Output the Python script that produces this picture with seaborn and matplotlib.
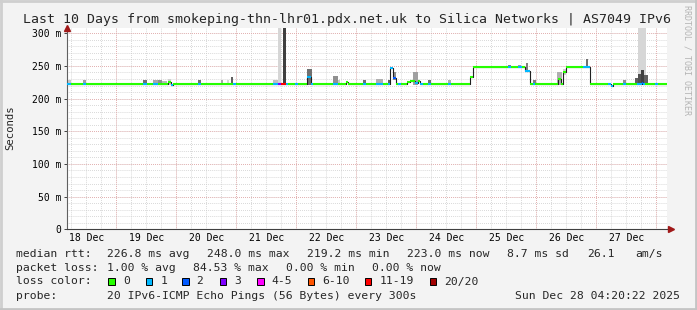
import numpy as np
import pandas as pd
import matplotlib
matplotlib.use("Agg")
import matplotlib.pyplot as plt
from matplotlib.patches import Rectangle
from matplotlib.lines import Line2D
import seaborn as sns

# ---------------- data (time in hours since 2025-12-18 00:00) ----------------
t_start_view = 4.34          # Dec 18 04:20:22
t_end_view = 244.34          # Dec 28 04:20:22

# median rtt pieces: start hour, median (ms), packets lost (of 20)
piece_start = [4.34, 6.0, 10.7, 12.0, 34.7, 36.3, 38.7, 40.7, 44.7, 45.9, 46.7,
               56.7, 57.9, 70.7, 71.9, 86.7, 88.7, 89.9, 91.9, 92.7, 95.7, 96.7,
               100.3, 101.9, 102.7, 110.7, 112.7, 115.9, 116.7, 122.7, 123.9,
               127.9, 130.7, 132.7, 133.5, 134.7, 135.9, 136.7, 137.9, 140.3,
               141.5, 143.5, 144.7, 145.5, 146.7, 148.7, 149.9, 156.7, 157.9,
               165.5, 166.7, 180.7, 181.9, 184.7, 186.3, 187.5, 189.5, 190.7,
               191.5, 200.7, 201.9, 202.7, 203.9, 210.7, 213.5, 220.7, 221.9,
               222.7, 226.7, 227.9, 232.3, 234.3, 234.9, 235.5, 239.5, 240.7]
piece_median = [222.5, 222.5, 222.5, 222.5, 222.5, 222.5, 222.5, 222.5, 225.0, 221.5, 222.5,
                222.5, 222.5, 222.5, 222.5, 222.5, 222.5, 222.5, 222.5, 222.5, 222.5, 222.5,
                233.0, 222.5, 222.5, 222.5, 222.5, 225.0, 222.5, 222.5, 222.5,
                222.5, 222.5, 222.5, 247.0, 231.0, 222.5, 222.5, 222.5, 225.5,
                227.0, 223.5, 227.0, 222.5, 222.5, 222.5, 222.5, 222.5, 222.5,
                233.0, 248.0, 248.0, 248.0, 248.0, 248.0, 242.0, 222.5, 222.5,
                222.5, 230.0, 222.5, 241.0, 248.0, 248.0, 222.5, 222.5, 219.5,
                222.5, 222.5, 222.5, 222.5, 223.5, 222.5, 222.5, 222.5, 222.5]
piece_loss = [1, 0, 1, 0, 1, 0, 1, 0, 0, 1, 0,
              1, 0, 1, 0, 1, 3, 17, 1, 0, 1, 0,
              1, 1, 0, 1, 0, 0, 0, 1, 0,
              1, 0, 1, 1, 2, 0, 1, 0, 0,
              0, 1, 0, 1, 0, 1, 0, 1, 0,
              0, 0, 1, 0, 1, 0, 1, 0, 1,
              0, 0, 0, 0, 0, 1, 0, 1, 1,
              0, 1, 0, 1, 2, 1, 0, 1, 0]

# smoke (ping spread): start, end, low ms, high ms, shade
smoke_start = [88.7, 232.7, 4.7, 10.7, 34.7, 38.7, 40.7, 42.3, 44.7, 56.7, 65.8, 68.3,
               69.9, 86.7, 90.7, 100.3, 110.7, 112.7, 122.7, 127.9, 132.7, 134.7,
               142.7, 148.7, 156.7, 180.7, 184.7, 187.9, 190.7, 200.3, 202.7, 211.9,
               226.7, 231.5, 232.7, 233.9, 235.1]
smoke_end = [89.9, 235.9, 5.9, 11.9, 36.3, 40.7, 42.3, 44.3, 45.9, 57.9, 66.8, 69.1,
             70.7, 88.7, 91.9, 102.3, 112.7, 113.5, 123.9, 130.7, 133.9, 135.9,
             144.7, 149.9, 157.9, 181.9, 185.9, 188.7, 191.9, 202.3, 203.9, 212.7,
             227.9, 232.7, 233.9, 235.1, 236.7]
smoke_low = [221, 221, 221, 221, 221, 221, 221, 221, 221, 221, 221, 221,
             221, 221, 221, 221, 221, 221, 221, 221, 221, 229,
             221, 221, 221, 247, 247, 241, 221, 221, 236, 247,
             221, 221, 221, 221, 221]
smoke_high = [320, 320, 228, 228, 228, 228, 228, 227, 230, 228, 229, 228,
              233, 229, 320, 245, 234, 228, 228, 230, 228, 241,
              240, 228, 228, 251, 251, 254, 228, 241, 245, 260,
              228, 232, 238, 243, 236]
smoke_shade = ["#d6d6d6", "#d6d6d6", "#c8c8c8", "#a0a0a0", "#707070", "#a8a8a8",
               "#909090", "#b8b8b8", "#d0d0d0", "#707070", "#a8a8a8", "#d8d8d8",
               "#606060", "#c0c0c0", "#404040", "#707070", "#909090", "#c8c8c8",
               "#707070", "#b0b0b0", "#606060", "#909090", "#a0a0a0", "#707070",
               "#b0b0b0", "#808080", "#a0a0a0", "#808080", "#808080", "#b0b0b0",
               "#d0d0d0", "#707070", "#909090", "#606060", "#505050", "#404040",
               "#606060"]

day_labels = ["18 Dec", "19 Dec", "20 Dec", "21 Dec", "22 Dec",
              "23 Dec", "24 Dec", "25 Dec", "26 Dec", "27 Dec"]
ytick_values = [0, 50, 100, 150, 200, 250, 300]
ytick_labels = ["0", "50 m", "100 m", "150 m", "200 m", "250 m", "300 m"]

loss_labels = ["0", "1", "2", "3", "4-5", "6-10", "11-19", "20/20"]
loss_colors = ["#26ff00", "#00b8ff", "#0059ff", "#7e00ff",
               "#ff00ff", "#ff5500", "#ff0000", "#a10000"]
loss_upper = [0, 1, 2, 3, 5, 10, 19, 20]

stats_rtt = ["226.8 ms avg", "248.0 ms max", "219.2 ms min", "223.0 ms now",
             "8.7 ms sd", "26.1", "am/s"]
stats_loss = ["1.00 % avg", "84.53 % max", "0.00 % min", "0.00 % now"]
title = "Last 10 Days from smokeping-thn-lhr01.pdx.net.uk to Silica Networks | AS7049 IPv6"
probe_text = "20 IPv6-ICMP Echo Pings (56 Bytes) every 300s"
stamp_text = "Sun Dec 28 04:20:22 2025"

# ---------------- style ----------------
W, H = 697, 310
sns.set_theme(style="white")
MONO = ["DejaVu Sans Mono", "DejaVu Sans"]
plt.rcParams["font.family"] = MONO
plt.rcParams["axes.unicode_minus"] = False

fig = plt.figure(figsize=(W / 100, H / 100), dpi=100, facecolor="#f3f3f3")
X0, X1, Y0, Y1 = 67, 667, 28, 229.3
ax = fig.add_axes([X0 / W, 1 - Y1 / H, (X1 - X0) / W, (Y1 - Y0) / H])
ax.set_facecolor("white")

ax.set_xlim(t_start_view, t_end_view)
ax.set_ylim(0, 308)

# grid
dot = (0, (0.7, 1.4))
minor_x = np.arange(6, t_end_view, 6)
major_x = np.arange(24, t_end_view, 24)
ax.vlines(minor_x, 0, 308, colors="#c9c9c9", lw=0.7, linestyles=dot, zorder=0.5)
ax.vlines(major_x, 0, 308, colors="#e8a0a0", lw=0.7, linestyles=dot, zorder=0.6)
ax.hlines(np.arange(10, 308, 10), t_start_view, t_end_view, colors="#c9c9c9",
          lw=0.7, linestyles=dot, zorder=0.5)
ax.hlines(np.arange(50, 308, 50), t_start_view, t_end_view, colors="#e8a0a0",
          lw=0.7, linestyles=dot, zorder=0.6)

# smoke
s_start = np.array(smoke_start)
s_end = np.array(smoke_end)
s_low = np.array(smoke_low, dtype=float)
s_high = np.array(smoke_high, dtype=float)
ax.bar(s_start, s_high - s_low, width=s_end - s_start, bottom=s_low, align="edge",
       color=smoke_shade, linewidth=0, zorder=1)

# median step line (dark)
p_end = piece_start[1:] + [t_end_view]
df = pd.DataFrame({"t": piece_start + [t_end_view],
                   "ms": piece_median + [piece_median[-1]]})
sns.lineplot(data=df, x="t", y="ms", drawstyle="steps-post", color="#202020",
             lw=0.8, ax=ax, estimator=None, sort=False, zorder=2)

# loss coloured median segments
def loss_color(n):
    for up, c in zip(loss_upper, loss_colors):
        if n <= up:
            return c
    return loss_colors[-1]

seg_colors = [loss_color(n) for n in piece_loss]
ax.hlines(piece_median, piece_start, p_end, colors=seg_colors, lw=1.5, zorder=3,
          capstyle="butt")

# axes / ticks
noon = np.arange(12, t_end_view, 24)[:len(day_labels)]
ax.set_xticks(noon, day_labels)
ax.set_yticks(ytick_values, ytick_labels)
ax.tick_params(axis="x", length=0, pad=3, labelsize=7, colors="black")
ax.tick_params(axis="y", length=2.2, width=0.7, pad=1.8, labelsize=7,
               colors="#404040", labelcolor="black", direction="out", left=True)
ax.set_xlabel("")
ax.set_ylabel("")
for s in ["top", "right"]:
    ax.spines[s].set_visible(False)
ax.spines["left"].set_color("#606060")
ax.spines["bottom"].set_color("#404040")
ax.spines["left"].set_linewidth(0.8)
ax.spines["bottom"].set_linewidth(0.8)

# arrows on axes
ax.plot([0], [1.0], marker="^", ms=4.5, color="#a01818", transform=ax.transAxes,
        clip_on=False, zorder=5)
ax.plot([1.006], [0], marker=">", ms=4.5, color="#a01818", transform=ax.transAxes,
        clip_on=False, zorder=5)

# ---------------- texts ----------------
def fx(x):
    return x / W

def fy(y):
    return 1 - y / H

fig.text(fx(347), fy(19), title, ha="center", va="center", fontsize=9.5)
fig.text(fx(10), fy(128), "Seconds", rotation=90, ha="center", va="center", fontsize=7.7)
fig.text(fx(687), fy(60), "RRDTOOL / TOBI OETIKER", rotation=270, ha="center",
         va="center", fontsize=6, color="#b4b4b4")

LF = 8.2
Y_L1, Y_L2, Y_L3, Y_L4 = 254, 268, 281.5, 296
fig.text(fx(16), fy(Y_L1), "median rtt:", va="center", fontsize=LF)
for x, s in zip([107, 207, 307, 407, 507, 587, 635], stats_rtt):
    fig.text(fx(x), fy(Y_L1), s, va="center", fontsize=LF)
fig.text(fx(16), fy(Y_L2), "packet loss:", va="center", fontsize=LF)
for x, s in zip([107, 193, 286, 372], stats_loss):
    fig.text(fx(x), fy(Y_L2), s, va="center", fontsize=LF)
fig.text(fx(16), fy(Y_L3), "loss color:", va="center", fontsize=LF)
box_x = [108.3, 145.7, 182, 219.5, 257, 307.7, 365, 430]
for bx, lab, c in zip(box_x, loss_labels, loss_colors):
    fig.add_artist(Rectangle((fx(bx), fy(284.5)), 6.5 / W, 6.5 / H,
                             transform=fig.transFigure,
                             facecolor=c, edgecolor="black", lw=0.7))
    fig.text(fx(bx + 14.5), fy(Y_L3), lab, va="center", fontsize=LF)
fig.text(fx(16), fy(Y_L4), "probe:", va="center", fontsize=LF)
fig.text(fx(107), fy(Y_L4), probe_text, va="center", fontsize=LF)
fig.text(fx(680), fy(Y_L4), stamp_text, ha="right", va="center", fontsize=LF)

# border shade
for (xa, ya, xb, yb, c) in [(0, 1, W, 1, "#cfcfcf"), (1, 0, 1, H, "#cfcfcf"),
                            (0, H - 1, W, H - 1, "#c4c4c4"), (W - 1.5, 0, W - 1.5, H, "#c4c4c4")]:
    fig.add_artist(Line2D([fx(xa), fx(xb)], [fy(ya), fy(yb)], transform=fig.transFigure,
                          color=c, lw=2))

fig.savefig("out.png", dpi=100, facecolor=fig.get_facecolor())
